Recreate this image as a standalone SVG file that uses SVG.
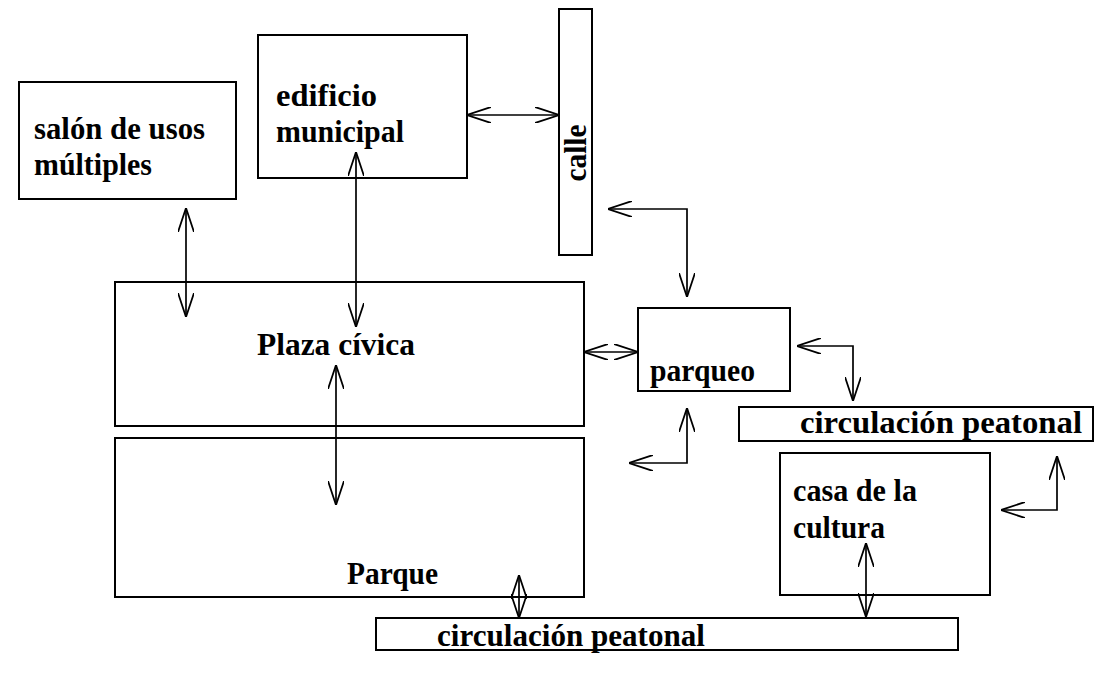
<svg xmlns="http://www.w3.org/2000/svg" width="1111" height="681" viewBox="0 0 1111 681">
<style>
.box{fill:#fff;stroke:#000;stroke-width:2}
.t{font-family:"Liberation Serif","Times New Roman","DejaVu Serif",serif;font-size:31px;font-weight:bold;fill:#000}
.c{fill:none;stroke:#000;stroke-width:1.7}
</style>
<defs>
<marker id="ah" viewBox="0 0 24 16" refX="24" refY="8" markerWidth="24" markerHeight="16" markerUnits="userSpaceOnUse" orient="auto-start-reverse">
<path d="M0,0 L24,8 L0,16" fill="none" stroke="#000" stroke-width="1.8"/>
</marker>
</defs>
<rect width="1111" height="681" fill="#fff"/>
<g id="salon"><rect class="box" x="19" y="82" width="217" height="117"/>
<text class="t" x="34" y="139" textLength="171" lengthAdjust="spacingAndGlyphs">salón de usos</text>
<text class="t" x="34" y="175" textLength="118" lengthAdjust="spacingAndGlyphs">múltiples</text></g>
<g id="edificio"><rect class="box" x="258" y="35" width="209" height="143"/>
<text class="t" x="276" y="106" textLength="101" lengthAdjust="spacingAndGlyphs">edificio</text>
<text class="t" x="276" y="142" textLength="128" lengthAdjust="spacingAndGlyphs">municipal</text></g>
<g id="calle"><rect class="box" x="559" y="9" width="33" height="246"/>
<text class="t" transform="translate(586,153) rotate(-90)" x="0" y="0" text-anchor="middle" textLength="57" lengthAdjust="spacingAndGlyphs">calle</text></g>
<g id="plaza"><rect class="box" x="115" y="282" width="469" height="144"/>
<text class="t" x="257" y="355" textLength="158" lengthAdjust="spacingAndGlyphs">Plaza cívica</text></g>
<g id="parque"><rect class="box" x="115" y="438" width="469" height="159"/>
<text class="t" x="347" y="584" textLength="91" lengthAdjust="spacingAndGlyphs">Parque</text></g>
<g id="parqueo"><rect class="box" x="638" y="308" width="152" height="83"/>
<text class="t" x="650" y="381" textLength="105" lengthAdjust="spacingAndGlyphs">parqueo</text></g>
<g id="circ-right"><rect class="box" x="739" y="407" width="354" height="34"/>
<text class="t" x="800" y="433" textLength="282" lengthAdjust="spacingAndGlyphs">circulación peatonal</text></g>
<g id="casa"><rect class="box" x="780" y="453" width="210" height="142"/>
<text class="t" x="793" y="501" textLength="124" lengthAdjust="spacingAndGlyphs">casa de la</text>
<text class="t" x="793" y="538" textLength="92" lengthAdjust="spacingAndGlyphs">cultura</text></g>
<g id="circ-bottom"><rect class="box" x="376" y="618" width="582" height="32"/>
<text class="t" x="437" y="646" textLength="268" lengthAdjust="spacingAndGlyphs">circulación peatonal</text></g>
<g id="connectors">
<path class="c" d="M186,208 V317" marker-start="url(#ah)" marker-end="url(#ah)"/>
<path class="c" d="M356,152 V327" marker-start="url(#ah)" marker-end="url(#ah)"/>
<path class="c" d="M467,115 H559" marker-start="url(#ah)" marker-end="url(#ah)"/>
<path class="c" d="M608,209 H687 V297" marker-start="url(#ah)" marker-end="url(#ah)"/>
<path class="c" d="M584,352 H638" marker-start="url(#ah)" marker-end="url(#ah)"/>
<path class="c" d="M336,365 V505" marker-start="url(#ah)" marker-end="url(#ah)"/>
<path class="c" d="M687,408 V463 H629" marker-start="url(#ah)" marker-end="url(#ah)"/>
<path class="c" d="M797,346 H853 V401" marker-start="url(#ah)" marker-end="url(#ah)"/>
<path class="c" d="M1057,456 V510 H1001" marker-start="url(#ah)" marker-end="url(#ah)"/>
<path class="c" d="M519,575 V618" marker-start="url(#ah)" marker-end="url(#ah)"/>
<path class="c" d="M866,543 V617" marker-start="url(#ah)" marker-end="url(#ah)"/>
</g>
</svg>
